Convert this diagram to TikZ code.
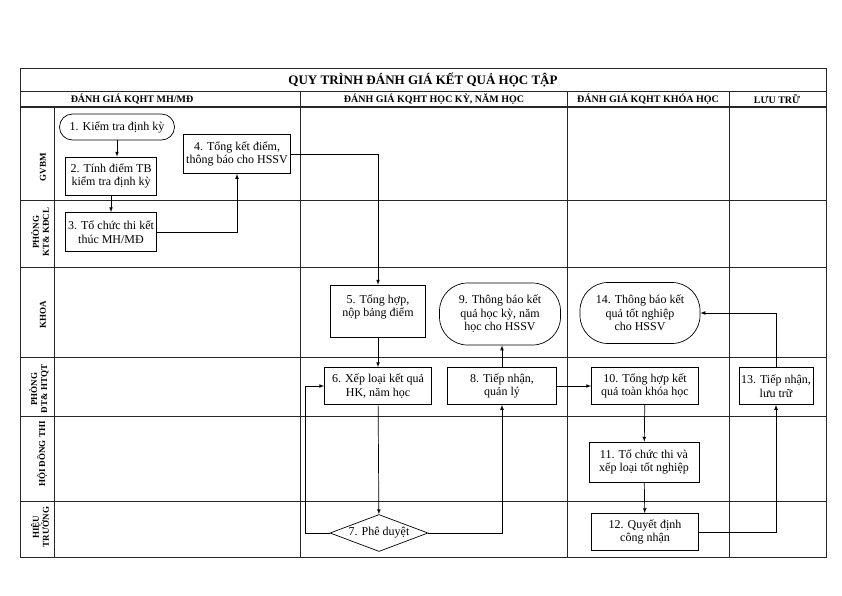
\documentclass[tikz,border=0pt]{standalone}
\usepackage{fontspec}
\setmainfont{Liberation Serif}
\usetikzlibrary{arrows,shapes.geometric}

\begin{document}
\begin{tikzpicture}
                \tikzset{x={(1pt, 0pt)}, y={(0pt, -1pt)}}
                \tikzset{
                    grid/.style={line width=0.8pt, draw=black!85},
                    box/.style={draw, line width=0.7pt, align=center, inner sep=1pt, font=\fontsize{12}{13.5}\selectfont},
                    term/.style={box, rounded corners=#1},
                    decision/.style={draw, diamond, aspect=2.6, line width=0.7pt, inner sep=0pt, font=\fontsize{12}{13.5}\selectfont},
                    lane/.style={rotate=90, align=center, font=\fontsize{9}{10}\selectfont\bfseries},
                    head/.style={font=\fontsize{10}{11}\selectfont\bfseries},
                    arr/.style={-latex, line width=0.7pt}
                }
                \useasboundingbox (0, 0) rectangle (842, 595);
                % khung bang
                \draw[grid] ( 20, 68) rectangle (826, 557);
                \draw[grid] ( 20, 68) rectangle (826, 91) node[midway, font=\fontsize{13}{15}\selectfont\bfseries] {QUY TRÌNH ĐÁNH GIÁ KẾT QUẢ HỌC TẬP};
                \draw[grid, line width=1.2pt] ( 20, 107) -- (826, 107);
                \draw[grid] ( 20, 200) -- (826, 200);
                \draw[grid] ( 20, 267) -- (826, 267);
                \draw[grid] ( 20, 357) -- (826, 357);
                \draw[grid] ( 20, 416) -- (826, 416);
                \draw[grid] ( 20, 501) -- (826, 501);
                \draw[grid] ( 54, 107) -- ( 54, 557);
                \draw[grid] (300, 91) -- (300, 557);
                \draw[grid] (567, 91) -- (567, 557);
                \draw[grid] (729, 91) -- (729, 557);
                % cot
                \node[head] (h1) at (132, 99) {ĐÁNH GIÁ KQHT MH/MĐ};
                \node[head] (h2) at (434, 99) {ĐÁNH GIÁ KQHT HỌC KỲ, NĂM HỌC};
                \node[head] (h3) at (648, 99) {ĐÁNH GIÁ KQHT KHÓA HỌC};
                \node[head] (h4) at (777, 99) {LƯU TRỮ};
                % hang
                \node[lane] (l1) at (43, 167) {GVBM};
                \node[lane] (l2) at (40, 232) {PHÒNG\\KT\& KĐCL};
                \node[lane] (l3) at (43, 315) {KHOA};
                \node[lane] (l4) at (39, 389) {PHÒNG\\ĐT\& HTQT};
                \node[lane] (l5) at (42, 454) {HỘI ĐỒNG THI};
                \node[lane] (l6) at (40, 527) {HIỆU\\TRƯỞNG};
                % buoc
                \node[term=13pt, minimum width=115pt, minimum height=26pt] (n1) at (117, 127) {1. Kiểm tra định kỳ};
                \node[box, minimum width=91pt, minimum height=38pt] (n2) at (111, 176) {2. Tính điểm TB\\kiểm tra định kỳ};
                \node[box, minimum width=91pt, minimum height=39pt] (n3) at (111, 232) {3. Tổ chức thi kết\\thúc MH/MĐ};
                \node[box, minimum width=107pt, minimum height=39pt] (n4) at (237, 154) {4. Tổng kết điểm,\\thông báo cho HSSV};
                \node[box, minimum width=95pt, minimum height=52pt] (n5) at (378, 311) {5. Tổng hợp,\\nộp bảng điểm\\[-3pt]\mbox{}};
                \node[box, minimum width=107pt, minimum height=37pt] (n6) at (378, 386) {6. Xếp loại kết quả\\HK, năm học};
                \node[decision, minimum width=98pt, minimum height=37pt] (n7) at (379, 533) {7. Phê duyệt};
                \node[box, minimum width=109pt, minimum height=37pt] (n8) at (502, 386) {8. Tiếp nhận,\\quản lý};
                \node[term=28pt, minimum width=121pt, minimum height=62pt] (n9) at (500, 314) {9. Thông báo kết\\quả học kỳ, năm\\học cho HSSV};
                \node[box, minimum width=107pt, minimum height=37pt] (n10) at (645, 386) {10. Tổng hợp kết\\quả toàn khóa học};
                \node[box, minimum width=110pt, minimum height=40pt] (n11) at (644, 462) {11. Tổ chức thi và\\xếp loại tốt nghiệp};
                \node[box, minimum width=107pt, minimum height=37pt] (n12) at (645, 532) {12. Quyết định\\công nhận};
                \node[box, minimum width=74pt, minimum height=37pt] (n13) at (776, 386) {13. Tiếp nhận,\\lưu trữ};
                \node[term=28pt, minimum width=120pt, minimum height=61pt] (n14) at (640, 313) {14. Thông báo kết\\quả tốt nghiệp\\cho HSSV};
                % mui ten
                \draw[arr] (n1.south) -- (n1.south |- n2.north);
                \draw[arr] (n2) -- (n3);
                \draw[arr] (n3.east) -| (n4.south);
                \draw[arr] (n4.east) -| (n5.north);
                \draw[arr] (n5) -- (n6);
                \draw[arr] (n6) -- (n7);
                \draw[arr] (n7.west) -- ++(-24, 0) |- (n6.west);
                \draw[arr] (n7.east) -| (n8.south);
                \draw[arr] (n8.north) -- (n8.north |- n9.south);
                \draw[arr] (n8) -- (n10);
                \draw[arr] (n10) -- (n11);
                \draw[arr] (n11) -- (n12);
                \draw[arr] (n12.east) -| (n13.south);
                \draw[arr] (n13.north) |- (n14.east);
            \end{tikzpicture}
\end{document}
